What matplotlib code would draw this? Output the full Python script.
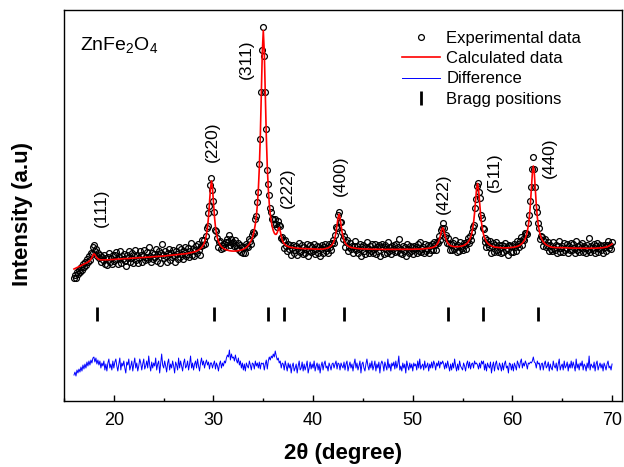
import numpy as np
import matplotlib.pyplot as plt
from matplotlib.ticker import MultipleLocator

plt.rcParams['font.family'] = ['Liberation Sans', 'DejaVu Sans']
plt.rcParams['mathtext.default'] = 'regular'

# scan positions, 2theta from 16 to 70 deg in 0.1 deg steps
two_theta = np.round(np.arange(16.0, 70.05, 0.1), 1)

# calculated (Rietveld) profile, one row per degree
calc = [
    132.0, 132.5, 133.0, 133.5, 134.0, 134.5, 134.9, 135.3, 136.0, 136.4,
    137.0, 137.4, 137.8, 138.3, 138.9, 139.6, 140.4, 141.8, 143.6, 145.9,
    147.2, 146.3, 144.4, 143.0, 142.0, 141.6, 141.3, 141.1, 141.1, 141.1,
    141.2, 141.2, 141.2, 141.2, 141.2, 141.3, 141.3, 141.4, 141.4, 141.5,
    141.6, 141.7, 141.7, 141.8, 141.9, 142.0, 142.0, 142.1, 142.2, 142.2,
    142.3, 142.4, 142.4, 142.5, 142.5, 142.6, 142.7, 142.7, 142.8, 142.8,
    142.9, 143.0, 143.1, 143.1, 143.2, 143.3, 143.4, 143.4, 143.5, 143.5,
    143.6, 143.7, 143.7, 143.8, 143.8, 143.9, 144.0, 144.1, 144.1, 144.2,
    144.3, 144.4, 144.4, 144.5, 144.6, 144.6, 144.7, 144.8, 144.8, 144.9,
    145.0, 145.1, 145.1, 145.2, 145.3, 145.4, 145.5, 145.6, 145.7, 145.8,
    145.9, 146.0, 146.1, 146.2, 146.3, 146.4, 146.5, 146.7, 146.8, 146.9,
    147.0, 147.2, 147.3, 147.4, 147.6, 147.8, 147.9, 148.1, 148.3, 148.6,
    148.9, 149.2, 149.6, 149.9, 150.4, 150.9, 151.5, 152.4, 153.5, 154.7,
    156.4, 158.9, 162.1, 166.8, 173.7, 183.9, 197.8, 212.8, 220.1, 212.9,
    198.1, 184.2, 174.1, 167.2, 162.6, 159.5, 157.1, 155.5, 154.3, 153.3,
    152.6, 152.0, 151.5, 151.1, 150.8, 150.5, 150.3, 150.1, 150.0, 149.9,
    149.9, 149.9, 149.9, 150.0, 150.2, 150.3, 150.5, 150.7, 151.0, 151.4,
    151.8, 152.3, 153.0, 153.7, 154.6, 155.7, 157.1, 158.8, 160.8, 163.4,
    166.8, 171.2, 176.9, 184.8, 195.6, 211.0, 233.2, 264.8, 306.3, 348.9,
    370.5, 349.0, 306.7, 265.5, 234.2, 212.3, 197.3, 186.9, 179.5, 174.3,
    170.5, 168.0, 166.7, 166.7, 168.4, 171.6, 173.4, 169.9, 164.8, 161.0,
    158.8, 157.3, 156.2, 155.4, 154.9, 154.4, 154.1, 153.8, 153.5, 153.3,
    153.4, 153.2, 153.0, 152.9, 152.8, 152.7, 152.6, 152.6, 152.5, 152.4,
    152.4, 152.3, 152.3, 152.3, 152.2, 152.2, 152.2, 152.2, 152.2, 152.2,
    152.0, 152.0, 151.9, 151.9, 151.9, 151.9, 151.8, 151.9, 151.9, 151.9,
    151.9, 152.1, 152.3, 152.5, 152.8, 153.1, 153.6, 154.2, 155.0, 156.2,
    157.7, 160.0, 163.6, 168.7, 175.7, 183.2, 186.9, 183.4, 176.0, 169.1,
    164.2, 160.7, 158.5, 156.9, 155.8, 155.0, 154.4, 154.0, 153.6, 153.4,
    153.1, 152.9, 152.8, 152.6, 152.5, 152.4, 152.4, 152.3, 152.2, 152.2,
    152.1, 152.0, 152.0, 152.0, 151.9, 151.9, 151.9, 151.9, 151.8, 151.8,
    151.8, 151.8, 151.7, 151.7, 151.7, 151.7, 151.7, 151.7, 151.7, 151.7,
    151.6, 151.6, 151.6, 151.6, 151.6, 151.6, 151.6, 151.6, 151.6, 151.6,
    151.7, 151.7, 151.7, 151.7, 151.7, 151.7, 151.7, 151.7, 151.7, 151.7,
    151.7, 151.7, 151.7, 151.7, 151.7, 151.7, 151.7, 151.7, 151.7, 151.7,
    151.8, 151.8, 151.8, 151.9, 151.9, 151.9, 151.9, 152.0, 152.0, 152.0,
    152.2, 152.2, 152.3, 152.4, 152.5, 152.6, 152.7, 152.9, 153.1, 153.4,
    153.5, 154.0, 154.5, 155.2, 156.2, 157.6, 159.7, 162.7, 166.7, 171.2,
    173.3, 171.3, 166.9, 163.0, 160.1, 158.1, 156.8, 156.0, 155.4, 155.0,
    154.6, 154.4, 154.3, 154.3, 154.3, 154.3, 154.4, 154.5, 154.7, 155.0,
    155.1, 155.5, 156.0, 156.6, 157.3, 158.3, 159.6, 161.3, 163.6, 166.9,
    171.5, 178.2, 187.6, 199.8, 211.9, 217.5, 211.9, 199.8, 187.6, 178.2,
    171.5, 166.8, 163.5, 161.1, 159.3, 158.0, 157.0, 156.2, 155.6, 155.1,
    154.6, 154.3, 154.1, 153.8, 153.7, 153.5, 153.4, 153.3, 153.2, 153.2,
    153.1, 153.1, 153.1, 153.1, 153.1, 153.1, 153.2, 153.3, 153.3, 153.5,
    153.5, 153.7, 153.9, 154.1, 154.4, 154.7, 155.1, 155.6, 156.2, 157.0,
    157.9, 159.1, 160.7, 162.9, 165.7, 169.8, 175.5, 183.9, 195.8, 211.4,
    227.5, 235.0, 227.6, 211.5, 195.9, 184.0, 175.7, 169.9, 165.9, 163.0,
    160.8, 159.2, 158.0, 157.0, 156.2, 155.6, 155.1, 154.7, 154.3, 154.0,
    153.7, 153.6, 153.5, 153.4, 153.4, 153.4, 153.4, 153.4, 153.4, 153.4,
    153.4, 153.4, 153.3, 153.3, 153.2, 153.2, 153.1, 153.1, 153.0, 153.0,
    152.9, 152.9, 152.9, 152.9, 152.8, 152.8, 152.8, 152.8, 152.8, 152.8,
    152.7, 152.7, 152.7, 152.7, 152.7, 152.7, 152.7, 152.6, 152.6, 152.6,
    152.6, 152.7, 152.7, 152.8, 152.8, 152.9, 153.0, 153.0, 153.1, 153.2,
    153.2, 153.4, 153.5, 153.7, 153.9, 154.1, 154.6, 155.1, 155.7, 156.3,
    157.0,
]

# observed minus calculated (the difference curve), same grid
diff = [
    -9, -6, -10, -4, -7, -3, -6, -1, -5, 1,
    -3, 2, -2, 4, 0, 5, 1, 6, 3, 8,
    9, 4, 8, 2, 6, 1, 5, -2, 3, 0,
    5, -4, 2, -5, 3, 7, -2, 2, -4, 5,
    -2, 4, 7, 0, -5, 2, 8, -4, 3, 0,
    5, -2, -7, 4, 1, 7, -4, 0, 5, -5,
    2, 8, -2, 3, -5, 0, 7, 3, -4, 2,
    7, -3, 0, 5, -2, 10, 1, -5, 4, -2,
    3, 0, 8, -4, 2, 5, -7, 3, 12, 1,
    -2, 5, 0, -6, 3, 7, -4, 2, -2, 5,
    0, -7, 4, 1, -4, 8, -2, 5, 0, -5,
    3, 7, -2, 0, 5, -4, 2, 10, -2, 3,
    -4, 2, 5, -2, 7, 0, -5, 3, 8, 1,
    5, -2, 3, 6, 1, 4, -3, 3, 3, -2,
    2, 5, -3, 3, 0, -5, 2, 5, -2, 3,
    0, 5, 3, 8, 11, 9, 16, 6, 12, 8,
    9, 5, 11, 6, 3, 8, 1, 5, -2, 3,
    -4, 2, -5, 3, 0, -2, 5, 1, -4, 3,
    2, -3, 5, 0, 3, -2, 4, -3, 3, 2,
    3, -4, 2, 6, -3, 5, 9, 6, 10, 8,
    12, 9, 15, 10, 6, 8, 3, 5, -2, 3,
    2, -4, 5, 0, -5, 3, -2, 2, -7, 0,
    3, -5, -2, 2, -7, 0, 5, -4, -2, 4,
    -5, 2, -4, 0, 5, -7, -2, 4, -3, 2,
    -2, 5, -5, 0, 3, -4, 2, -7, 0, 4,
    -4, 2, 5, -2, 0, -5, 3, 0, -4, 2,
    3, -2, 2, 5, -3, 3, 2, -4, 3, 0,
    -2, 4, -4, 2, 5, -5, 0, 4, -2, 2,
    -5, 2, 7, -2, 3, -4, 0, 5, -7, 2,
    4, -2, -5, 2, 7, 0, -4, 3, -2, 5,
    -4, 0, 5, -5, 2, -2, 4, -7, 2, 5,
    2, -5, 4, 0, -4, 7, -2, 2, -5, 3,
    0, 4, -3, 5, -2, 2, 10, -4, 0, -5,
    3, -2, 2, -7, 5, 0, -4, 3, -2, 2,
    -5, 3, 0, 2, -4, 5, -2, 7, -3, 0,
    2, -4, 5, -2, 0, 3, -5, 2, -2, 4,
    -2, 5, 2, -4, 3, 0, 5, -2, 4, 2,
    5, 2, -3, 3, -2, 5, 0, -5, 2, -4,
    3, -2, 7, 0, -5, 2, -4, 5, 0, -2,
    -4, 3, 0, -5, 2, 5, -2, 4, -3, 2,
    3, -2, 5, 2, 3, 1, -3, 3, -2, 5,
    2, 5, -4, 2, -5, 3, 0, -2, 4, -7,
    0, 4, -5, 2, 5, -2, -4, 3, 0, -5,
    3, -4, 2, 5, -2, 0, -7, 3, 2, -4,
    2, -5, 3, 0, -4, 5, 2, -2, 4, 7,
    -2, 3, 0, 5, 2, -3, 3, 2, 4, 3,
    5, 9, 4, 3, -2, 5, 2, 3, -4, 2,
    3, -4, 2, 5, -2, 0, 4, -5, 2, -2,
    -4, 5, 0, -2, 3, -5, 2, 7, -4, 0,
    2, -4, 5, -2, 0, 4, -5, 2, -2, 5,
    -2, 4, 0, -5, 7, -2, 2, -4, 3, 0,
    5, -4, 2, 0, -5, 3, -2, 10, -4, 2,
    0, -2, 4, -5, 2, 5, -4, 0, 3, -2,
    2, -5, 3, 0, -4, 2, 5, -2, 0, -4,
    2,
]

bragg = [18.3, 30.05, 35.45, 37.1, 43.1, 53.5, 57.05, 62.6]
bragg_level = 87.5
diff_offset = 35

hkl = ['(111)', '(220)', '(311)', '(222)', '(400)', '(422)', '(511)', '(440)']
hkl_x = [18.7, 29.9, 33.35, 37.4, 42.75, 53.1, 58.2, 63.7]
hkl_y = [193, 259, 342, 213, 225, 207, 229, 243]

calc = np.array(calc)
diff = np.array(diff)
obs = calc + diff

fig = plt.figure(figsize=(6.24, 4.67), dpi=100)
ax = fig.add_axes([0.1026, 0.1413, 0.8942, 0.8373])

ax.plot(two_theta, obs, 'o', ms=4.2, mfc='none', mec='black', mew=0.9,
        label='Experimental data', zorder=2)
ax.plot(two_theta, calc, '-', color='red', lw=1.2, label='Calculated data', zorder=3)
ax.plot(two_theta, diff + diff_offset, '-', color='blue', lw=0.7, label='Difference')
ax.plot(bragg, [bragg_level] * len(bragg), '|', color='black', ms=10, mew=2.0,
        label='Bragg positions')

for lab, x, y in zip(hkl, hkl_x, hkl_y):
    ax.text(x, y, lab, rotation=90, ha='center', va='center', fontsize=12.5)

ax.text(0.0287, 0.898, 'ZnFe$_2$O$_4$', transform=ax.transAxes, fontsize=14,
        va='baseline', ha='left')

ax.set_xlim(15, 71)
ax.set_ylim(0, 391)
ax.xaxis.set_major_locator(MultipleLocator(10))
ax.xaxis.set_minor_locator(MultipleLocator(5))
ax.tick_params(axis='x', which='major', direction='in', length=4.5, width=1.0,
               labelsize=13, pad=8)
ax.tick_params(axis='x', which='minor', direction='in', length=2.5, width=1.0)
ax.tick_params(axis='y', which='both', left=False, labelleft=False)
for sp in ax.spines.values():
    sp.set_linewidth(1.0)

ax.set_xlabel('2θ (degree)', fontsize=16, fontweight='bold', labelpad=10)
ax.set_ylabel('Intensity (a.u)', fontsize=16, fontweight='bold')
ax.yaxis.set_label_coords(-0.056, 0.478)

ax.legend(loc='upper left', bbox_to_anchor=(0.6057, 0.947), frameon=False,
          fontsize=12, numpoints=1, handlelength=2.3, handletextpad=0.35,
          labelspacing=0.32, borderpad=0, borderaxespad=0)

fig.savefig('out.png', dpi=100)
